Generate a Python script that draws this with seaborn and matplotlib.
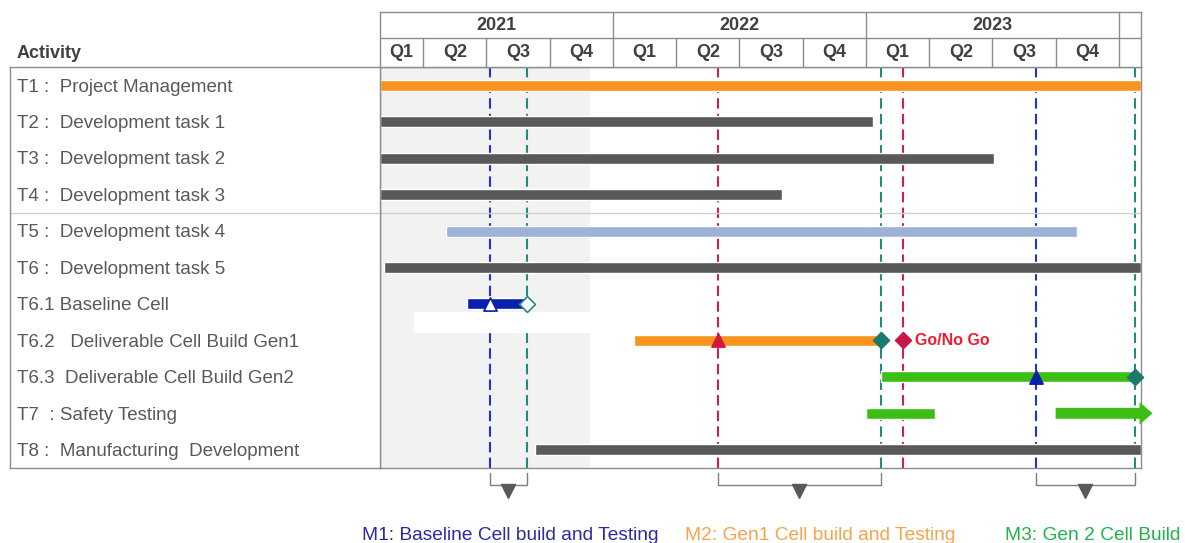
import matplotlib
matplotlib.use("Agg")
import matplotlib.pyplot as plt
import seaborn as sns
import pandas as pd

# x unit = months, 0 = start of Jan 2021
activities = [
    "T1 :  Project Management",
    "T2 :  Development task 1",
    "T3 :  Development task 2",
    "T4 :  Development task 3",
    "T5 :  Development task 4",
    "T6 :  Development task 5",
    "T6.1 Baseline Cell",
    "T6.2   Deliverable Cell Build Gen1",
    "T6.3  Deliverable Cell Build Gen2",
    "T7  : Safety Testing",
    "T8 :  Manufacturing  Development",
]
bar_start = [0.95, 0.95, 0.95, 0.95, 4.1, 1.15, 5.1, 13.0, 24.7, 24.0, 8.3]
bar_end = [37.05, 24.35, 30.1, 20.0, 34.0, 37.05, 7.92, 24.7, 36.8, 27.3, 37.05]
bar_colors = ["#F7941D", "#595959", "#595959", "#595959", "#9DB3D5", "#595959",
              "#0A1FAA", "#F7941D", "#3CBF14", "#3CBF14", "#595959"]

# second safety-testing block (continues past the chart)
safety2_start, safety2_end = 33.0, 37.0

# milestone lines
line_month = [6.17, 7.92, 16.98, 24.7, 25.76, 32.07, 36.75]
line_color = ["#2233CC", "#1E8C7E", "#CC1F55", "#1E8C7E", "#CC1F55", "#2233CC", "#1E8C7E"]

# milestone markers on bars
mk_row = [6, 6, 7, 7, 7, 8, 8]
mk_month = [6.17, 7.92, 16.98, 24.7, 25.76, 32.07, 36.75]
mk_shape = ["^", "D", "^", "D", "D", "^", "D"]
mk_face = ["white", "white", "#D6163E", "#1A7A6E", "#C8174A", "#0A20A8", "#1A7A6E"]
mk_edge = ["#0A1FAA", "#1E8C7E", "#D6163E", "#1A7A6E", "#C8174A", "#0A20A8", "#1A7A6E"]

brackets = [(6.17, 7.92), (16.98, 24.7), (32.07, 36.75)]
years = ["2021", "2022", "2023"]
quarters = ["Q1", "Q2", "Q3", "Q4"]
xmin, xmax = 0.95, 37.05
shade_end = 10.9

sns.set_theme(style="white")
plt.rcParams["font.family"] = ["Liberation Sans", "DejaVu Sans"]

W, H = 1185, 543
fig = plt.figure(figsize=(W / 100, H / 100), dpi=100)
ax = fig.add_axes([380 / W, 1 - 468 / H, 761 / W, 401 / H])
axh = fig.add_axes([380 / W, 1 - 67 / H, 761 / W, 55 / H], sharex=ax)
axl = fig.add_axes([10 / W, 1 - 468 / H, 370 / W, 401 / H], sharey=ax)

grid = "#8C8C8C"
txt = "#404040"

# ---- main gantt area
ax.set_xlim(xmin, xmax)
ax.set_ylim(len(activities) - 0.5, -0.5)
ax.axvspan(xmin, shade_end, color="#F2F2F2", zorder=0, lw=0)

for m, c in zip(line_month, line_color):
    ax.axvline(m, color=c, lw=1.5, dashes=(5, 2.5), zorder=1)

df = pd.DataFrame({"task": activities, "start": bar_start, "end": bar_end})
ax.barh(range(len(df)), df["end"] - df["start"], left=df["start"], height=0.3,
        color=bar_colors, zorder=3)
ax.arrow(safety2_start, 9, safety2_end - safety2_start + 0.6, 0, width=0.3,
         head_width=0.62, head_length=0.62, length_includes_head=True,
         color="#3CBF14", lw=0, zorder=3, clip_on=False)

# white patch from the source slide
ax.barh(6.5, 8.6, left=2.55, height=0.55, color="white", zorder=2)

mk = pd.DataFrame({"row": mk_row, "month": mk_month, "shape": mk_shape,
                   "face": mk_face, "edge": mk_edge})
for _, r in mk.iterrows():
    sns.scatterplot(x=[r["month"]], y=[r["row"]], marker=r["shape"], s=90 if r["shape"] == "^" else 65,
                    color=r["face"], edgecolor=r["edge"], linewidth=1.2, ax=ax,
                    zorder=5, legend=False, clip_on=False)
ax.text(25.76 + 0.55, 7, "Go/No Go", color="#EE1D30", fontsize=11.5, fontweight="bold",
        va="center", ha="left")

ax.axhline(3.5, color="#D0D0D0", lw=1, zorder=2)
ax.set_xticks([])
ax.set_yticks([])
ax.set_xlabel("")
ax.set_ylabel("")
for s in ax.spines.values():
    s.set_color(grid)
    s.set_linewidth(1)

# brackets under the chart
tr = ax.get_xaxis_transform()
for a, b in brackets:
    ax.plot([a, a, b, b], [-0.012, -0.042, -0.042, -0.012], color="#7F7F7F", lw=1,
            transform=tr, clip_on=False)
    ax.plot([(a + b) / 2], [-0.058], marker="v", ms=10, color="#595959",
            transform=tr, clip_on=False)

# ---- header (years / quarters)
split = 29 / 55
axh.set_ylim(0, 1)
axh.set_yticks([])
axh.tick_params(bottom=False, labelbottom=False)
for s in axh.spines.values():
    s.set_color(grid)
    s.set_linewidth(1)
axh.axhline(split, color=grid, lw=1)
for i, y in enumerate(years):
    y0, y1 = 12 * i, 12 * (i + 1)
    axh.axvline(y1, color=grid, lw=1)
    axh.text((max(y0, xmin) + min(y1, xmax)) / 2, (1 + split) / 2, y, ha="center", va="center",
             fontsize=13, fontweight="bold", color=txt)
    for q, qn in enumerate(quarters):
        q0, q1 = y0 + 3 * q, y0 + 3 * (q + 1)
        if q < 3:
            axh.plot([q1, q1], [0, split], color=grid, lw=1)
        axh.text((max(q0, xmin) + min(q1, xmax)) / 2, split / 2, qn, ha="center", va="center",
                 fontsize=13, fontweight="bold", color=txt)

# ---- activity labels
axl.set_xlim(0, 1)
axl.set_xticks([])
axl.tick_params(left=False, labelleft=False)
for s in axl.spines.values():
    s.set_color(grid)
    s.set_linewidth(1)
for i, label in enumerate(activities):
    axl.text(0.019, i + 0.05, label, ha="left", va="center", fontsize=13.5, color="#595959")
axl.axhline(3.5, color="#D0D0D0", lw=1)

fig.text(17 / W, 1 - 53 / H, "Activity", fontsize=13, fontweight="bold", color=txt,
         va="center", ha="left")

# ---- milestone captions
fig.text(362 / W, 1 - 535 / H, "M1: Baseline Cell build and Testing", color="#2A2AA5",
         fontsize=13.8, va="center")
fig.text(685 / W, 1 - 535 / H, "M2: Gen1 Cell build and Testing", color="#F9A24A",
         fontsize=13.8, va="center")
fig.text(1005 / W, 1 - 535 / H, "M3: Gen 2 Cell Build", color="#22B14C",
         fontsize=13.8, va="center")

fig.savefig("out.png", dpi=100)
